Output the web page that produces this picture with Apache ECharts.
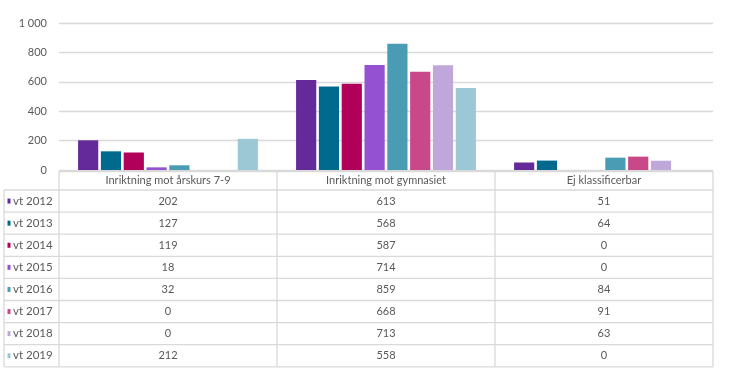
<!DOCTYPE html>
<html>
<head>
<meta charset="utf-8">
<script src="https://cdn.jsdelivr.net/npm/echarts@6/dist/echarts.min.js"></script>
<style>html,body{margin:0;padding:0;background:#fff}#c{width:735px;height:379px}</style>
</head>
<body>
<div id="c"></div>
<script>
var categories = ['Inriktning mot årskurs 7-9', 'Inriktning mot gymnasiet', 'Ej klassificerbar'];
var seriesNames = ['vt 2012', 'vt 2013', 'vt 2014', 'vt 2015', 'vt 2016', 'vt 2017', 'vt 2018', 'vt 2019'];
var vt2012 = [202, 613, 51];
var vt2013 = [127, 568, 64];
var vt2014 = [119, 587, 0];
var vt2015 = [18, 714, 0];
var vt2016 = [32, 859, 84];
var vt2017 = [0, 668, 91];
var vt2018 = [0, 713, 63];
var vt2019 = [212, 558, 0];
var seriesValues = [vt2012, vt2013, vt2014, vt2015, vt2016, vt2017, vt2018, vt2019];
var yTicks = [0, 200, 400, 600, 800, 1000];
var colors = ['#642A9A', '#006A8E', '#B0005A', '#9452D0', '#4A9BB4', '#C8488A', '#BFA8D9', '#9CC8D6'];

var W = 735, H = 379;
var gridLeft = 59, gridRight = 713, gridTop = 23, gridBottom = 170;
var tableLeft = 4, headerTop = 171.5, headerBottom = 190, rowH = 22.1;
var lineColor = '#D9D9D9', textColor = '#595959';
var font = 'Lato, "Liberation Sans", sans-serif';

function fmt(v) { return String(v).replace(/\B(?=(\d{3})+(?!\d))/g, ' '); }

var graphics = [];
var colW = (gridRight - gridLeft) / categories.length;
var tableBottom = headerBottom + rowH * seriesNames.length;
graphics.push({type: 'line', shape: {x1: gridLeft, y1: headerTop, x2: gridRight, y2: headerTop}, style: {stroke: lineColor, lineWidth: 1.3}});
for (var r = 0; r <= seriesNames.length; r++) {
  var y = headerBottom + r * rowH;
  graphics.push({type: 'line', shape: {x1: tableLeft, y1: y, x2: gridRight, y2: y}, style: {stroke: lineColor, lineWidth: 1.3}});
}
graphics.push({type: 'line', shape: {x1: tableLeft, y1: headerBottom, x2: tableLeft, y2: tableBottom}, style: {stroke: lineColor, lineWidth: 1.3}});
for (var c = 0; c <= categories.length; c++) {
  var x = gridLeft + c * colW;
  graphics.push({type: 'line', shape: {x1: x, y1: headerTop, x2: x, y2: tableBottom}, style: {stroke: lineColor, lineWidth: 1.3}});
}
categories.forEach(function (cat, i) {
  graphics.push({type: 'text', x: gridLeft + (i + 0.5) * colW, y: (headerTop + headerBottom) / 2,
    style: {text: cat, fill: textColor, font: '11px ' + font, align: 'center', verticalAlign: 'middle'}});
});
seriesNames.forEach(function (name, r) {
  var cy = headerBottom + (r + 0.5) * rowH;
  graphics.push({type: 'rect', shape: {x: 7.5, y: cy - 2.5, width: 3, height: 5}, style: {fill: colors[r]}});
  graphics.push({type: 'text', x: 13, y: cy, style: {text: name, fill: textColor, font: '11.5px ' + font, align: 'left', verticalAlign: 'middle'}});
  seriesValues[r].forEach(function (v, c) {
    graphics.push({type: 'text', x: gridLeft + (c + 0.5) * colW, y: cy,
      style: {text: String(v), fill: textColor, font: '11px ' + font, align: 'center', verticalAlign: 'middle'}});
  });
});

var series = seriesNames.map(function (name, i) {
  return {
    name: name, type: 'bar', data: seriesValues[i],
    itemStyle: {color: colors[i]},
    barGap: '13%', barCategoryGap: '17.5%',
    animation: false
  };
});

var chart = echarts.init(document.getElementById('c'), null, {renderer: 'canvas'});
chart.setOption({
  animation: false,
  grid: {left: gridLeft, right: W - gridRight, top: gridTop, bottom: H - gridBottom, containLabel: false},
  xAxis: {type: 'category', data: categories, axisLine: {show: false}, axisTick: {show: false}, axisLabel: {show: false}},
  yAxis: {type: 'value', min: yTicks[0], max: yTicks[yTicks.length - 1], interval: yTicks[1] - yTicks[0],
    axisLine: {show: false}, axisTick: {show: false},
    axisLabel: {color: textColor, fontSize: 11, fontFamily: font, margin: 12, formatter: function (v) { return fmt(v); }},
    splitLine: {lineStyle: {color: lineColor, width: 1.3}}},
  series: series,
  graphic: graphics
});
</script>
</body>
</html>
